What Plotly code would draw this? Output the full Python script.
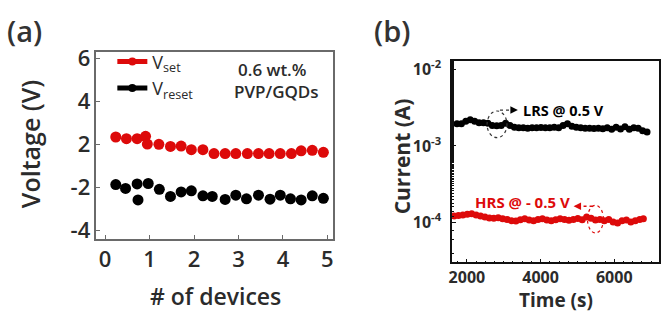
import plotly.graph_objects as go

# ---------------- Panel (a) data ----------------
dev_set = [0.24, 0.48, 0.72, 0.91, 0.95, 1.21, 1.47, 1.71, 1.94, 2.2, 2.45, 2.7, 2.94, 3.2, 3.45,
           3.69, 3.94, 4.19, 4.41, 4.66, 4.91]
v_set = [2.35, 2.27, 2.27, 2.38, 2.02, 2.01, 1.91, 1.93, 1.76, 1.76, 1.58, 1.58, 1.58, 1.58, 1.58,
         1.58, 1.58, 1.58, 1.71, 1.73, 1.64]
dev_reset = [0.24, 0.46, 0.72, 0.74, 0.97, 1.22, 1.47, 1.71, 1.94, 2.2, 2.41, 2.7, 2.94, 3.18, 3.45,
             3.71, 3.94, 4.17, 4.41, 4.66, 4.91]
v_reset = [-1.86, -2.04, -1.83, -2.57, -1.81, -2.08, -2.41, -2.2, -2.15, -2.38, -2.41, -2.55, -2.35,
           -2.52, -2.35, -2.54, -2.35, -2.52, -2.57, -2.38, -2.5]
# The original y axis jumps from 2 straight to -2 (no 0 tick): emulate that break
AXIS_BREAK = 2.0
v_reset_axis = [v + AXIS_BREAK for v in v_reset]
ya_tickvals = [6, 4, 2, -2 + AXIS_BREAK, -4 + AXIS_BREAK]
ya_ticktext = ["6", "4", "2", "-2", "-4"]

# ---------------- Panel (b) data ----------------
t_lrs = [1730, 1850, 1970, 2090, 2210, 2330, 2450, 2570, 2690, 2810, 2930, 3050, 3170, 3290, 3410,
         3530, 3650, 3770, 3890, 4010, 4130, 4250, 4370, 4490, 4610, 4730, 4850, 4970, 5090, 5210,
         5330, 5450, 5570, 5690, 5810, 5930, 6050, 6170, 6290, 6410, 6530, 6650, 6770, 6890]
i_lrs = [1.94e-3, 1.94e-3, 2.1e-3, 2.2e-3, 2.1e-3, 2.0e-3, 2.0e-3, 1.97e-3, 1.85e-3, 1.83e-3,
         1.85e-3, 1.97e-3, 1.85e-3, 1.75e-3, 1.72e-3, 1.72e-3, 1.70e-3, 1.72e-3, 1.72e-3, 1.74e-3,
         1.72e-3, 1.73e-3, 1.75e-3, 1.72e-3, 1.85e-3, 1.95e-3, 1.80e-3, 1.75e-3, 1.72e-3, 1.70e-3,
         1.70e-3, 1.68e-3, 1.70e-3, 1.67e-3, 1.72e-3, 1.65e-3, 1.75e-3, 1.66e-3, 1.78e-3, 1.65e-3,
         1.72e-3, 1.70e-3, 1.58e-3, 1.52e-3]
t_hrs = [1650, 1770, 1890, 2010, 2130, 2250, 2370, 2490, 2610, 2730, 2850, 2970, 3090, 3210, 3330,
         3450, 3570, 3690, 3810, 3930, 4050, 4170, 4290, 4410, 4530, 4650, 4770, 4890, 5010, 5130,
         5250, 5370, 5490, 5610, 5730, 5850, 5970, 6090, 6210, 6330, 6450, 6570, 6690, 6790]
i_hrs = [1.22e-4, 1.24e-4, 1.26e-4, 1.28e-4, 1.30e-4, 1.26e-4, 1.22e-4, 1.18e-4, 1.15e-4, 1.14e-4,
         1.16e-4, 1.12e-4, 1.10e-4, 1.06e-4, 1.05e-4, 1.09e-4, 1.12e-4, 1.08e-4, 1.06e-4, 1.10e-4,
         1.12e-4, 1.08e-4, 1.06e-4, 1.09e-4, 1.12e-4, 1.10e-4, 1.07e-4, 1.10e-4, 1.13e-4, 1.09e-4,
         1.18e-4, 1.14e-4, 1.08e-4, 1.10e-4, 1.06e-4, 1.10e-4, 1.02e-4, 0.99e-4, 1.06e-4, 1.08e-4,
         1.02e-4, 1.06e-4, 1.10e-4, 1.12e-4]
yb_tickvals = [1e-4, 1e-3, 1e-2]
yb_ticktext = ["10<sup>-4</sup>", "10<sup>-3</sup>", "10<sup>-2</sup>"]
xb_tickvals = [2000, 4000, 6000]

RED = "#dd0a0a"
BLACK = "#000000"
TXT = "#2b2b2b"
FONT = "Open Sans"

fig = go.Figure()

# panel (a)
fig.add_trace(go.Scatter(x=dev_set, y=v_set, mode="markers", showlegend=False,
                         marker=dict(color=RED, size=11, line=dict(width=0)), xaxis="x", yaxis="y"))
fig.add_trace(go.Scatter(x=dev_reset, y=v_reset_axis, mode="markers", showlegend=False,
                         marker=dict(color=BLACK, size=11, line=dict(width=0)), xaxis="x", yaxis="y"))
# legend entries
fig.add_trace(go.Scatter(x=[None], y=[None], mode="lines+markers", name="V<sub>set</sub>",
                         line=dict(color=RED, width=5), marker=dict(color=RED, size=8),
                         xaxis="x", yaxis="y"))
fig.add_trace(go.Scatter(x=[None], y=[None], mode="lines+markers", name="V<sub>reset</sub>",
                         line=dict(color=BLACK, width=5), marker=dict(color=BLACK, size=8),
                         xaxis="x", yaxis="y"))

# panel (b)
fig.add_trace(go.Scatter(x=t_lrs, y=i_lrs, mode="lines+markers", showlegend=False,
                         line=dict(color=BLACK, width=4), marker=dict(color=BLACK, size=7),
                         xaxis="x2", yaxis="y2"))
fig.add_trace(go.Scatter(x=t_hrs, y=i_hrs, mode="lines+markers", showlegend=False,
                         line=dict(color=RED, width=4), marker=dict(color=RED, size=7),
                         xaxis="x2", yaxis="y2"))

W, H = 669, 317


def px(x):
    return x / W


def py(y):
    return 1 - y / H


axis_common = dict(showgrid=False, zeroline=False, showline=True, mirror=True,
                   ticks="inside", ticklen=4)

fig.update_layout(
    width=W, height=H,
    margin=dict(l=0, r=0, t=0, b=0),
    paper_bgcolor="white", plot_bgcolor="white",
    font=dict(family=FONT, color=TXT),
    showlegend=True,
    legend=dict(x=px(110), y=py(35), xanchor="left", yanchor="top",
                bgcolor="rgba(0,0,0,0)", font=dict(size=18, color=TXT, family=FONT),
                itemwidth=30, tracegroupgap=0),
    xaxis=dict(domain=[px(94), px(331.7)], range=[-0.195, 5.12], anchor="y",
               tickvals=[0, 1, 2, 3, 4, 5], linecolor="#6a6a6a", linewidth=1.5,
               tickcolor="#6a6a6a",
               tickfont=dict(size=22, color=TXT, family=FONT, weight=600),
               **axis_common),
    yaxis=dict(domain=[py(240), py(44)], range=[-2.37, 6.3], anchor="x",
               tickvals=ya_tickvals, ticktext=ya_ticktext, linecolor="#6a6a6a", linewidth=1.5,
               tickcolor="#6a6a6a",
               tickfont=dict(size=22, color=TXT, family=FONT, weight=600),
               **axis_common),
    xaxis2=dict(domain=[px(451.7), px(660)], range=[1595, 7216], anchor="y2",
                tickvals=xb_tickvals, linecolor="#111", linewidth=1.5, tickcolor="#111",
                tickfont=dict(size=16, color=TXT, family=FONT, weight=700),
                minor=dict(ticks="inside", ticklen=2, dtick=250, tickcolor="#111"),
                **axis_common),
    yaxis2=dict(domain=[py(265), py(53.3)], type="log", range=[-4.52, -1.89], anchor="x2",
                tickvals=yb_tickvals, ticktext=yb_ticktext, linecolor="#111", linewidth=1.5,
                tickcolor="#111", ticklabelstandoff=6,
                tickfont=dict(size=16, color=TXT, family=FONT, weight=700),
                minor=dict(ticks="inside", ticklen=2, tickcolor="#111"),
                **axis_common),
)


def label(text, x, y, size, weight=600, color=TXT, angle=0, xanchor="center", align="center"):
    return dict(text=text, x=px(x), y=py(y), xref="paper", yref="paper", xanchor=xanchor,
                yanchor="middle", textangle=angle, showarrow=False, align=align,
                font=dict(size=size, color=color, family=FONT, weight=weight))


ann = [
    label("(a)", 2, 21, 29, color="#333", xanchor="left"),
    label("(b)", 371, 21, 29, color="#333", xanchor="left"),
    label("Voltage (V)", 27, 141, 25, angle=-90),
    label("# of devices", 214, 300, 23),
    label("Current (A)", 401, 154, 21, weight=700, angle=-90),
    label("Time (s)", 556, 304, 19, weight=700),
    label("0.6 wt.%", 271, 62, 17),
    label("PVP/GQDs", 275, 86, 17),
    label("LRS @ 0.5 V", 521, 105, 14.5, weight=700, color=BLACK, xanchor="left"),
    label("HRS @ - 0.5 V", 572, 202, 15, weight=700, color=RED, xanchor="right"),
    # arrow heads
    dict(x=px(518), y=py(105), xref="paper", yref="paper", ax=-4, ay=0, text="",
         showarrow=True, arrowhead=2, arrowsize=1, arrowwidth=1.5, arrowcolor=BLACK),
    dict(x=px(574), y=py(206), xref="paper", yref="paper", ax=4, ay=0, text="",
         showarrow=True, arrowhead=2, arrowsize=1, arrowwidth=1.5, arrowcolor=RED),
]
fig.update_layout(annotations=ann)

shapes = [
    dict(type="circle", xref="paper", yref="paper", x0=px(487), x1=px(507),
         y0=py(134), y1=py(106), line=dict(color="#333", width=1.2, dash="dot")),
    dict(type="line", xref="paper", yref="paper", x0=px(500), x1=px(514),
         y0=py(105), y1=py(105), line=dict(color="#333", width=1.3, dash="dot")),
    dict(type="circle", xref="paper", yref="paper", x0=px(588), x1=px(604),
         y0=py(234), y1=py(205), line=dict(color=RED, width=1.2, dash="dot")),
    dict(type="line", xref="paper", yref="paper", x0=px(578), x1=px(596),
         y0=py(206), y1=py(206), line=dict(color=RED, width=1.3, dash="dot")),
]
fig.update_layout(shapes=shapes)

fig.write_html("out.html", config={"displayModeBar": False},
               post_script="document.body.style.margin='0';")
